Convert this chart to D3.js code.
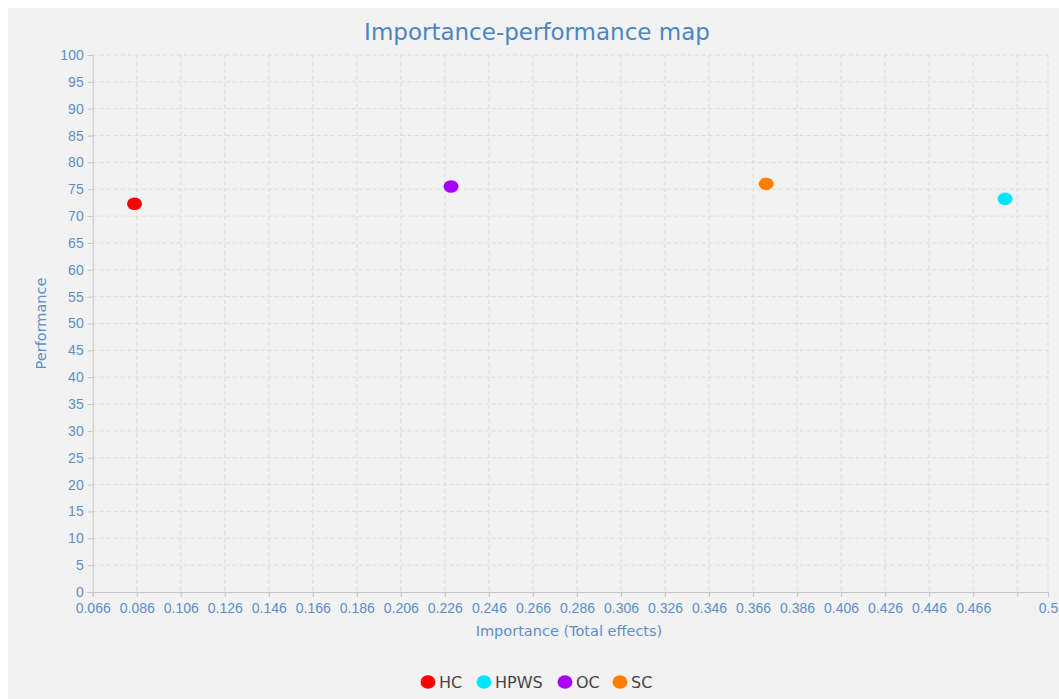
<!DOCTYPE html>
<html>
<head>
<meta charset="utf-8">
<script src="https://cdn.jsdelivr.net/npm/d3@7"></script>
<style>
  body { margin: 0; background: #fff; }
  svg { display: block; font-family: "DejaVu Sans", sans-serif; }
  .axis path, .axis line { stroke: #c4c4c4; }
  .axis text { fill: #5b8fc6; font-size: 14px; }
  .grid line { stroke: #dcdcdc; stroke-dasharray: 4,3; }
</style>
</head>
<body>
<div id="vis-container"></div>
<script>
// data
const names = ["HC", "HPWS", "OC", "SC"];
const importance = [0.085, 0.4805, 0.2288, 0.372];
const performance = [72.3, 73.2, 75.5, 76.0];
const colors = ["#ff0000", "#00e5ff", "#aa00ff", "#ff8000"];
const xTicks = [0.066, 0.086, 0.106, 0.126, 0.146, 0.166, 0.186, 0.206, 0.226, 0.246,
  0.266, 0.286, 0.306, 0.326, 0.346, 0.366, 0.386, 0.406, 0.426, 0.446, 0.466, 0.486, 0.5];
const yTicks = d3.range(0, 101, 5);

const w = 1059, h = 699;
const margin = {left: 92.7, right: 1048, top: 55, bottom: 592};

const svg = d3.select("#vis-container").append("svg")
  .attr("width", w).attr("height", h);

// grey panel
svg.append("rect")
  .attr("x", 8).attr("y", 8)
  .attr("width", w - 8).attr("height", h - 8)
  .attr("fill", "#f2f2f2");

const xScale = d3.scaleLinear().domain([0.066, 0.5]).range([margin.left, margin.right]);
const yScale = d3.scaleLinear().domain([0, 100]).range([margin.bottom, margin.top]);

// grid
svg.append("g").attr("class", "grid")
  .selectAll("line").data(xTicks.slice(1)).enter().append("line")
  .attr("x1", d => xScale(d)).attr("x2", d => xScale(d))
  .attr("y1", margin.top).attr("y2", margin.bottom);
svg.append("g").attr("class", "grid")
  .selectAll("line").data(yTicks.slice(1)).enter().append("line")
  .attr("y1", d => yScale(d)).attr("y2", d => yScale(d))
  .attr("x1", margin.left).attr("x2", margin.right);

// axes
const xAxis = d3.axisBottom(xScale).tickValues(xTicks).tickSizeOuter(0).tickSize(5).tickPadding(6)
  .tickFormat(d => d === 0.486 ? "" : String(d));
const yAxis = d3.axisLeft(yScale).tickValues(yTicks).tickSizeOuter(0).tickSize(5).tickPadding(4)
  .tickFormat(d => d);

svg.append("g").attr("class", "x axis")
  .attr("transform", "translate(0," + margin.bottom + ")")
  .call(xAxis);
svg.append("g").attr("class", "y axis")
  .attr("transform", "translate(" + margin.left + ",0)")
  .call(yAxis);
svg.selectAll(".axis .domain").attr("stroke", "#c4c4c4");

// title and labels
svg.append("text")
  .attr("x", 537).attr("y", 40)
  .attr("text-anchor", "middle")
  .style("font-size", "23px")
  .style("fill", "#4a86c0")
  .text("Importance-performance map");

svg.append("text")
  .attr("x", 569).attr("y", 636)
  .attr("text-anchor", "middle")
  .style("font-size", "14.5px")
  .style("fill", "#5b8fc6")
  .text("Importance (Total effects)");

svg.append("text")
  .attr("transform", "translate(46," + ((margin.top + margin.bottom) / 2) + ") rotate(-90)")
  .attr("text-anchor", "middle")
  .style("font-size", "14.5px")
  .style("fill", "#5b8fc6")
  .text("Performance");

// dots
svg.selectAll(".dot")
  .data(names)
  .enter()
  .append("ellipse")
  .attr("class", "dot")
  .attr("cx", (d, i) => xScale(importance[i]))
  .attr("cy", (d, i) => yScale(performance[i]))
  .attr("rx", 7.5).attr("ry", 6.3)
  .attr("fill", (d, i) => colors[i]);

// legend
const legendX = [428, 484, 565, 620];
const legend = svg.selectAll(".legend")
  .data(names)
  .enter().append("g")
  .attr("class", "legend")
  .attr("transform", (d, i) => "translate(" + legendX[i] + ",682)");
legend.append("ellipse")
  .attr("rx", 7.5).attr("ry", 6.8)
  .attr("fill", (d, i) => colors[i]);
legend.append("text")
  .attr("x", 11).attr("y", 0)
  .attr("dy", ".35em")
  .style("font-size", "16px")
  .style("fill", "#444")
  .text(d => d);
</script>
</body>
</html>
